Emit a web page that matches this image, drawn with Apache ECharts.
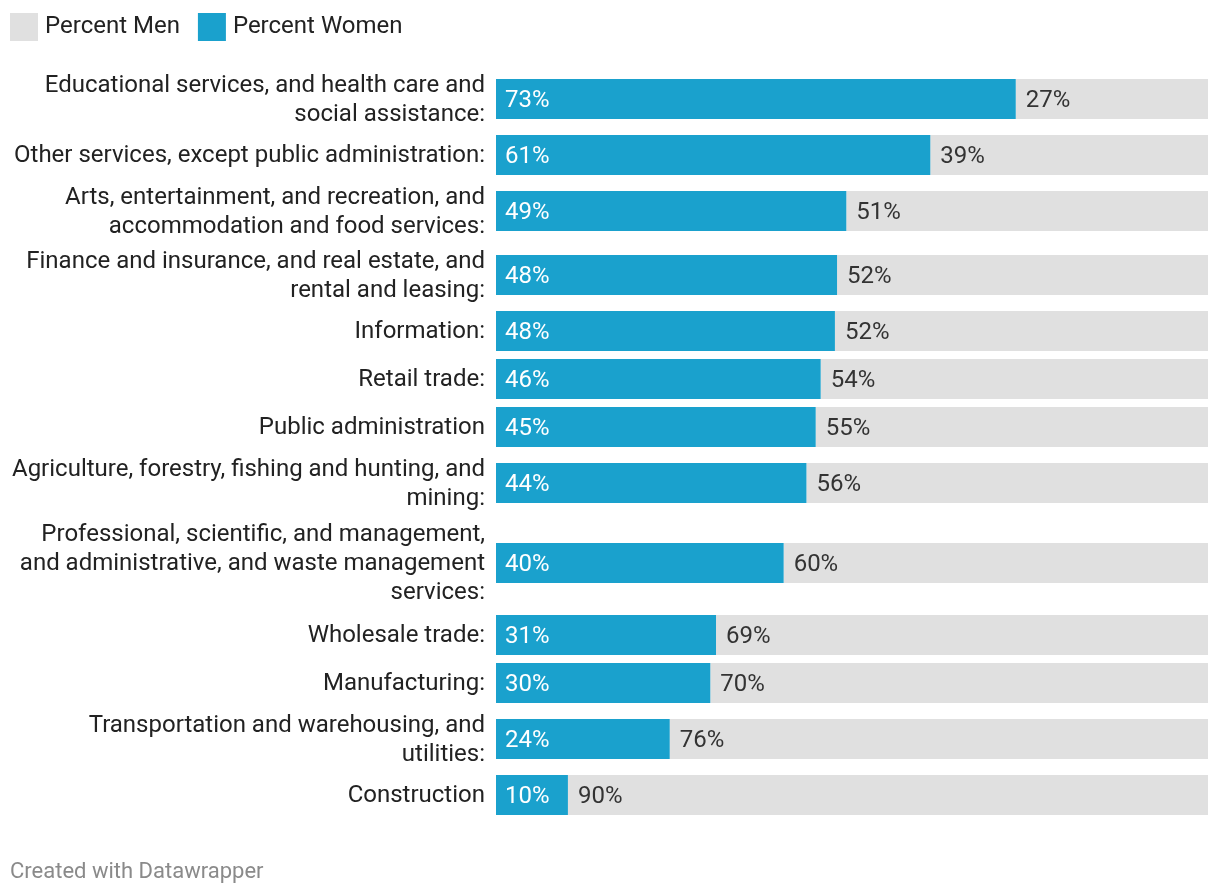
<!DOCTYPE html>
<html>
<head>
<meta charset="utf-8">
<script src="https://cdn.jsdelivr.net/npm/echarts@6/dist/echarts.min.js"></script>
<style>
  html, body { margin: 0; padding: 0; background: #fff; }
  #chart { width: 1220px; height: 896px; }
</style>
</head>
<body>
<div id="chart"></div>
<script>
// ---- data ----
const categories = [
  "Educational services, and health care and\nsocial assistance:",
  "Other services, except public administration:",
  "Arts, entertainment, and recreation, and\naccommodation and food services:",
  "Finance and insurance, and real estate, and\nrental and leasing:",
  "Information:",
  "Retail trade:",
  "Public administration",
  "Agriculture, forestry, fishing and hunting, and\nmining:",
  "Professional, scientific, and management,\nand administrative, and waste management\nservices:",
  "Wholesale trade:",
  "Manufacturing:",
  "Transportation and warehousing, and\nutilities:",
  "Construction"
];
const percentWomen = [73.0, 61.0, 49.2, 47.9, 47.6, 45.6, 44.9, 43.6, 40.4, 30.9, 30.1, 24.4, 10.1];
const percentMen   = [27.0, 39.0, 50.8, 52.1, 52.4, 54.4, 55.1, 56.4, 59.6, 69.1, 69.9, 75.6, 89.9];
const seriesNames = ["Percent Men", "Percent Women"];

// ---- layout (row heights derived from label line counts) ----
const BLUE = "#1aa1cd", GREY = "#e0e0e0";
const FONT = "Roboto";
const BAR_H = 40;
const rowHeightByLines = [0, 48, 64, 96];
const centers = [];
let acc = 0;
categories.forEach(c => {
  const h = rowHeightByLines[c.split("\n").length];
  centers.push(acc + h / 2);
  acc += h;
});
const totalH = acc;
const GRID_TOP = 67;

const womenData = percentWomen.map((w, i) => [w, centers[i], i]);
const menData = percentMen.map((m, i) => [percentWomen[i], centers[i], m]);

const chart = echarts.init(document.getElementById("chart"), null, { renderer: "canvas" });
chart.setOption({
  animation: false,
  backgroundColor: "#fff",
  textStyle: { fontFamily: FONT },
  title: {
    text: "Created with Datawrapper",
    left: 10, top: 861, padding: 0,
    textStyle: { fontFamily: FONT, fontSize: 22, fontWeight: "normal", color: "#8a8a8a" }
  },
  legend: {
    left: 10, top: 13, padding: 0,
    itemWidth: 28, itemHeight: 28, itemGap: 18,
    icon: "rect",
    data: seriesNames,
    textStyle: { fontFamily: FONT, fontSize: 24, color: "#222", padding: [4, 0, 0, 2] }
  },
  grid: { left: 496, right: 12, top: GRID_TOP, height: totalH },
  xAxis: { type: "value", min: 0, max: 100, show: false },
  yAxis: { type: "value", min: 0, max: totalH, inverse: true, show: false },
  series: [
    {
      name: seriesNames[0],
      type: "custom",
      itemStyle: { color: GREY },
      data: menData,
      encode: { x: 0, y: 1 },
      renderItem: function (params, api) {
        const w = api.value(0), c = api.value(1), m = api.value(2);
        const p0 = api.coord([w, c]);
        const p1 = api.coord([w + m, c]);
        const h = api.size([0, BAR_H])[1];
        return {
          type: "group",
          children: [
            { type: "rect", shape: { x: p0[0], y: p0[1] - h / 2, width: p1[0] - p0[0], height: h },
              style: { fill: GREY } },
            { type: "text", x: p0[0] + 10, y: p0[1] + 2,
              style: { text: Math.round(m) + "%", fill: "#333", font: "24px " + FONT,
                       align: "left", verticalAlign: "middle" } }
          ]
        };
      }
    },
    {
      name: seriesNames[1],
      type: "custom",
      itemStyle: { color: BLUE },
      data: womenData,
      encode: { x: 0, y: 1 },
      renderItem: function (params, api) {
        const w = api.value(0), c = api.value(1), idx = api.value(2);
        const p0 = api.coord([0, c]);
        const p1 = api.coord([w, c]);
        const h = api.size([0, BAR_H])[1];
        return {
          type: "group",
          children: [
            { type: "rect", shape: { x: p0[0], y: p0[1] - h / 2, width: p1[0] - p0[0], height: h },
              style: { fill: BLUE } },
            { type: "text", x: p0[0] + 9, y: p0[1] + 2,
              style: { text: Math.round(w) + "%", fill: "#fff", font: "24px " + FONT,
                       align: "left", verticalAlign: "middle" } },
            { type: "text", x: p0[0] - 11, y: p0[1] + 1,
              style: { text: categories[idx], fill: "#222", font: "24px " + FONT,
                       align: "right", verticalAlign: "middle", lineHeight: 29 } }
          ]
        };
      }
    }
  ]
});
</script>
</body>
</html>
